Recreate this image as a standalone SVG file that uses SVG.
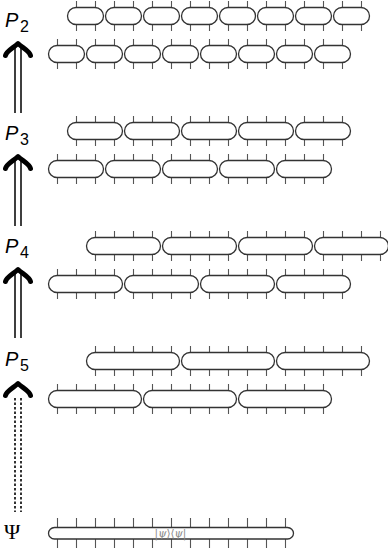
<svg xmlns="http://www.w3.org/2000/svg" xmlns:xlink="http://www.w3.org/1999/xlink" width="388" height="549" viewBox="0 0 388 549">
<style>
.leg{stroke:#555;stroke-width:1.1;fill:none}
.cap{fill:#fff;stroke:#333;stroke-width:1.3}
.lbl{font-family:"Liberation Sans",Arial,sans-serif;font-style:italic;font-size:20px;fill:#000}
.sub{font-family:"Liberation Sans",Arial,sans-serif;font-size:16px;fill:#000}
.shaft{stroke:#000;stroke-width:1.5;fill:none}
.dash{stroke:#000;stroke-width:1.6;fill:none;stroke-dasharray:2.5 2}
.head{stroke:#000;stroke-width:5;fill:none;stroke-linecap:round;stroke-linejoin:round}
.psi{font-family:"DejaVu Serif","Liberation Serif",serif;font-size:10.5px;fill:#888}
</style>
<defs>
<g id="cap2"><path class="leg" d="M9,-15V15M28,-15V15"/><rect class="cap" x="0" y="-8.5" width="36" height="17" rx="8.5"/></g>
<g id="cap3"><path class="leg" d="M9,-15V15M28,-15V15M47,-15V15"/><rect class="cap" x="0" y="-8.5" width="55" height="17" rx="8.5"/></g>
<g id="cap4"><path class="leg" d="M9,-15V15M28,-15V15M47,-15V15M66,-15V15"/><rect class="cap" x="0" y="-8.5" width="74" height="17" rx="8.5"/></g>
<g id="cap5"><path class="leg" d="M9,-15V15M28,-15V15M47,-15V15M66,-15V15M85,-15V15"/><rect class="cap" x="0" y="-8.5" width="93" height="17" rx="8.5"/></g>
<path id="arrowhead" class="head" d="M5.5,13.5 C6.5,9 13,6 18,1.5 C23,6 29.5,9 30.5,13.5"/>
</defs>

<g id="connectors">
<g id="arrow-p3-p2"><path class="shaft" d="M15,46V113M21,46V113"/><use href="#arrowhead" transform="translate(0,42)"/></g>
<g id="arrow-p4-p3"><path class="shaft" d="M15,159V226M21,159V226"/><use href="#arrowhead" transform="translate(0,155)"/></g>
<g id="arrow-p5-p4"><path class="shaft" d="M15,272V338M21,272V338"/><use href="#arrowhead" transform="translate(0,268)"/></g>
<g id="arrow-psi-p5"><path class="dash" d="M15,398V512M21,398V512"/><use href="#arrowhead" transform="translate(0,382)"/></g>
</g>

<g id="label-P2"><text class="lbl" x="5" y="27">P</text><text class="sub" x="20" y="32">2</text></g>
<g id="label-P3"><text class="lbl" x="5" y="140">P</text><text class="sub" x="20" y="145">3</text></g>
<g id="label-P4"><text class="lbl" x="5" y="253">P</text><text class="sub" x="20" y="258">4</text></g>
<g id="label-P5"><text class="lbl" x="5" y="366">P</text><text class="sub" x="20" y="371">5</text></g>
<g id="label-Psi"><text x="4" y="539" font-family="'Liberation Serif',serif" font-size="22">Ψ</text></g>

<g id="P2-upper">
<g id="p2u1"><use href="#cap2" transform="translate(67.5,16)"/></g>
<g id="p2u2"><use href="#cap2" transform="translate(105.5,16)"/></g>
<g id="p2u3"><use href="#cap2" transform="translate(143.5,16)"/></g>
<g id="p2u4"><use href="#cap2" transform="translate(181.5,16)"/></g>
<g id="p2u5"><use href="#cap2" transform="translate(219.5,16)"/></g>
<g id="p2u6"><use href="#cap2" transform="translate(257.5,16)"/></g>
<g id="p2u7"><use href="#cap2" transform="translate(295.5,16)"/></g>
<g id="p2u8"><use href="#cap2" transform="translate(333.5,16)"/></g>
</g>
<g id="P2-lower">
<g id="p2l1"><use href="#cap2" transform="translate(48.5,54)"/></g>
<g id="p2l2"><use href="#cap2" transform="translate(86.5,54)"/></g>
<g id="p2l3"><use href="#cap2" transform="translate(124.5,54)"/></g>
<g id="p2l4"><use href="#cap2" transform="translate(162.5,54)"/></g>
<g id="p2l5"><use href="#cap2" transform="translate(200.5,54)"/></g>
<g id="p2l6"><use href="#cap2" transform="translate(238.5,54)"/></g>
<g id="p2l7"><use href="#cap2" transform="translate(276.5,54)"/></g>
<g id="p2l8"><use href="#cap2" transform="translate(314.5,54)"/></g>
</g>

<g id="P3-upper">
<g id="p3u1"><use href="#cap3" transform="translate(67.5,131)"/></g>
<g id="p3u2"><use href="#cap3" transform="translate(124.5,131)"/></g>
<g id="p3u3"><use href="#cap3" transform="translate(181.5,131)"/></g>
<g id="p3u4"><use href="#cap3" transform="translate(238.5,131)"/></g>
<g id="p3u5"><use href="#cap3" transform="translate(295.5,131)"/></g>
</g>
<g id="P3-lower">
<g id="p3l1"><use href="#cap3" transform="translate(48.5,169)"/></g>
<g id="p3l2"><use href="#cap3" transform="translate(105.5,169)"/></g>
<g id="p3l3"><use href="#cap3" transform="translate(162.5,169)"/></g>
<g id="p3l4"><use href="#cap3" transform="translate(219.5,169)"/></g>
<g id="p3l5"><use href="#cap3" transform="translate(276.5,169)"/></g>
</g>

<g id="P4-upper">
<g id="p4u1"><use href="#cap4" transform="translate(86.5,246)"/></g>
<g id="p4u2"><use href="#cap4" transform="translate(162.5,246)"/></g>
<g id="p4u3"><use href="#cap4" transform="translate(238.5,246)"/></g>
<g id="p4u4"><use href="#cap4" transform="translate(314.5,246)"/></g>
</g>
<g id="P4-lower">
<g id="p4l1"><use href="#cap4" transform="translate(48.5,284)"/></g>
<g id="p4l2"><use href="#cap4" transform="translate(124.5,284)"/></g>
<g id="p4l3"><use href="#cap4" transform="translate(200.5,284)"/></g>
<g id="p4l4"><use href="#cap4" transform="translate(276.5,284)"/></g>
</g>

<g id="P5-upper">
<g id="p5u1"><use href="#cap5" transform="translate(86.5,361)"/></g>
<g id="p5u2"><use href="#cap5" transform="translate(181.5,361)"/></g>
<g id="p5u3"><use href="#cap5" transform="translate(276.5,361)"/></g>
</g>
<g id="P5-lower">
<g id="p5l1"><use href="#cap5" transform="translate(48.5,399)"/></g>
<g id="p5l2"><use href="#cap5" transform="translate(143.5,399)"/></g>
<g id="p5l3"><use href="#cap5" transform="translate(238.5,399)"/></g>
</g>

<g id="psi-state" transform="translate(48.5,533)">
<path class="leg" d="M9,-15V15M28,-15V15M47,-15V15M66,-15V15M85,-15V15M104,-15V15M123,-15V15M142,-15V15M161,-15V15M180,-15V15M199,-15V15M218,-15V15M237,-15V15"/>
<rect class="cap" x="0" y="-5.5" width="245" height="11.5" rx="6"/>
<text class="psi" x="122" y="4" text-anchor="middle">|<tspan font-style="italic">ψ</tspan>⟩⟨<tspan font-style="italic">ψ</tspan>|</text>
</g>
</svg>
